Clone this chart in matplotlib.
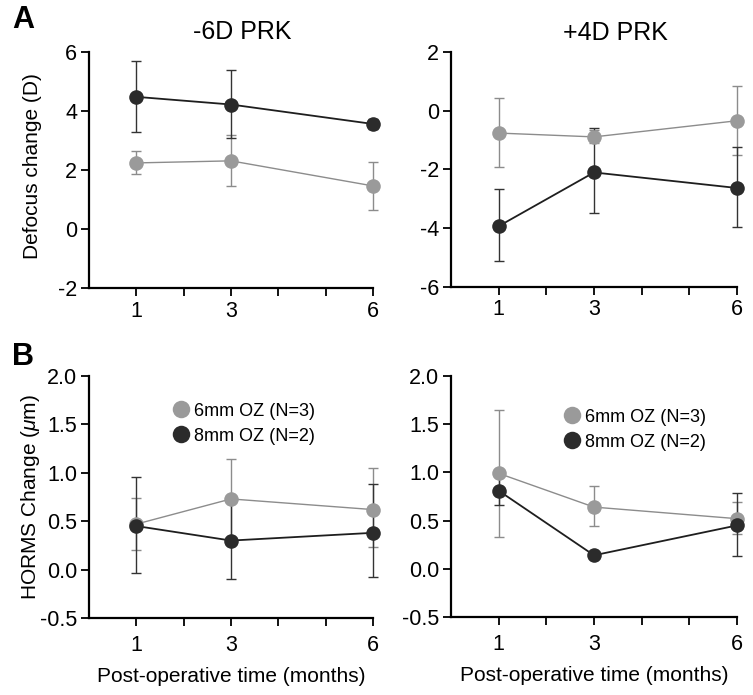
import matplotlib
matplotlib.use("Agg")
import matplotlib.pyplot as plt
import numpy as np

plt.rcParams['font.family'] = ['Liberation Sans', 'DejaVu Sans']
plt.rcParams['mathtext.fontset'] = 'custom'
plt.rcParams['mathtext.it'] = 'Liberation Sans:italic'
plt.rcParams['mathtext.rm'] = 'Liberation Sans'

months = [1, 3, 6]
xtick_pos = [1, 2, 3, 4, 5, 6]
xtick_labels = ['1', '', '3', '', '', '6']

# Panel A left: -6D PRK (defocus change, D)
a1_6mm = [2.24, 2.31, 1.46]
a1_6mm_lo = [1.87, 1.47, 0.64]
a1_6mm_hi = [2.63, 3.20, 2.28]
a1_8mm = [4.48, 4.22, 3.56]
a1_8mm_lo = [3.30, 3.10, 3.38]
a1_8mm_hi = [5.69, 5.38, 3.73]

# Panel A right: +4D PRK
a2_6mm = [-0.76, -0.89, -0.34]
a2_6mm_lo = [-1.90, -1.11, -1.50]
a2_6mm_hi = [0.43, -0.65, 0.83]
a2_8mm = [-3.93, -2.10, -2.63]
a2_8mm_lo = [-5.11, -3.49, -3.95]
a2_8mm_hi = [-2.66, -0.60, -1.23]

# Panel B left: HORMS change (um), -6D PRK
b1_6mm = [0.47, 0.73, 0.62]
b1_6mm_lo = [0.20, 0.31, 0.23]
b1_6mm_hi = [0.74, 1.14, 1.05]
b1_8mm = [0.45, 0.30, 0.38]
b1_8mm_lo = [-0.03, -0.10, -0.08]
b1_8mm_hi = [0.96, 0.72, 0.88]

# Panel B right: HORMS change (um), +4D PRK
b2_6mm = [0.99, 0.64, 0.52]
b2_6mm_lo = [0.33, 0.44, 0.36]
b2_6mm_hi = [1.65, 0.86, 0.69]
b2_8mm = [0.81, 0.14, 0.45]
b2_8mm_lo = [0.66, 0.14, 0.13]
b2_8mm_hi = [0.98, 0.14, 0.79]

legend_labels = ['6mm OZ (N=3)', '8mm OZ (N=2)']
titles = ['-6D PRK', '+4D PRK']

GREY = '#9a9a9a'
DARK = '#2b2b2b'

fig = plt.figure(figsize=(7.53, 6.95), dpi=100)
W, H = 753, 695

def make_ax(l, t, r, b):
    return fig.add_axes([l / W, 1 - b / H, (r - l) / W, (b - t) / H])

axA1 = make_ax(89, 52, 373, 288)
axA2 = make_ax(451, 52, 737, 287)
axB1 = make_ax(89, 376, 373, 618)
axB2 = make_ax(451, 376, 737, 617)

def plot_series(ax, y, lo, hi, color, lcolor, ecolor, lw, label):
    y = np.array(y); lo = np.array(lo); hi = np.array(hi)
    yerr = np.vstack([y - lo, hi - y])
    ax.errorbar(months, y, yerr=yerr, fmt='none', ecolor=ecolor, elinewidth=1.0,
                capsize=3.8, capthick=1.0, clip_on=False, zorder=2)
    ax.plot(months, y, color=lcolor, lw=lw, zorder=3, clip_on=False)
    ax.plot(months, y, 'o', color=color, markersize=10.5, markeredgewidth=0,
            zorder=4, clip_on=False, label=label)

def style(ax, ylim, yticks, ylabels, xpad):
    ax.set_xlim(0, 6)
    ax.set_ylim(*ylim)
    ax.set_yticks(yticks)
    ax.set_yticklabels(ylabels)
    ax.set_xticks(xtick_pos)
    ax.set_xticklabels(xtick_labels)
    for s in ['top', 'right']:
        ax.spines[s].set_visible(False)
    for s in ['left', 'bottom']:
        ax.spines[s].set_linewidth(1.6)
    ax.tick_params(axis='both', direction='out', length=5.5, width=1.3,
                   labelsize=15.5, colors='black')
    ax.tick_params(axis='x', pad=xpad)
    ax.tick_params(axis='y', pad=3)

series = [
    (axA1, a1_6mm, a1_6mm_lo, a1_6mm_hi, a1_8mm, a1_8mm_lo, a1_8mm_hi),
    (axA2, a2_6mm, a2_6mm_lo, a2_6mm_hi, a2_8mm, a2_8mm_lo, a2_8mm_hi),
    (axB1, b1_6mm, b1_6mm_lo, b1_6mm_hi, b1_8mm, b1_8mm_lo, b1_8mm_hi),
    (axB2, b2_6mm, b2_6mm_lo, b2_6mm_hi, b2_8mm, b2_8mm_lo, b2_8mm_hi),
]
for ax, g, glo, ghi, d, dlo, dhi in series:
    plot_series(ax, g, glo, ghi, GREY, '#8c8c8c', '#8c8c8c', 1.0, legend_labels[0])
    plot_series(ax, d, dlo, dhi, DARK, '#1e1e1e', '#333333', 1.3, legend_labels[1])

style(axA1, (-2, 6), [-2, 0, 2, 4, 6], ['-2', '0', '2', '4', '6'], 3.5)
style(axA2, (-6, 2), [-6, -4, -2, 0, 2], ['-6', '-4', '-2', '0', '2'], 3.5)
bt = [-0.5, 0.0, 0.5, 1.0, 1.5, 2.0]
bl = ['-0.5', '0.0', '0.5', '1.0', '1.5', '2.0']
style(axB1, (-0.5, 2.0), bt, bl, 6.5)
style(axB2, (-0.5, 2.0), bt, bl, 6.5)

axA1.set_ylabel('Defocus change (D)', fontsize=15)
axB1.set_ylabel('HORMS Change ($\\mu$m)', fontsize=15)
axA1.yaxis.set_label_coords(-0.165, 0.517)
axB1.yaxis.set_label_coords(-0.165, 0.50)
axB1.set_xlabel('Post-operative time (months)', fontsize=15, labelpad=8)
axB2.set_xlabel('Post-operative time (months)', fontsize=15, labelpad=8)

fig.text(242 / W, 1 - 32 / H, titles[0], fontsize=18, ha='center', va='center')
fig.text(615 / W, 1 - 33 / H, titles[1], fontsize=18, ha='center', va='center')
fig.text(12 / W, 1 - 20 / H, 'A', fontsize=22, fontweight='bold', ha='left', va='center')
fig.text(12 / W, 1 - 357 / H, 'B', fontsize=22, fontweight='bold', ha='left', va='center')

for ax, anchor in [(axB1, (0.30, 0.89)), (axB2, (0.40, 0.865))]:
    ax.legend(loc='upper left', bbox_to_anchor=anchor, frameon=False, fontsize=13,
              handlelength=0.7, handletextpad=0.4, labelspacing=0.45, borderpad=0,
              borderaxespad=0, markerscale=1.2)

fig.savefig('out.png', dpi=100)
